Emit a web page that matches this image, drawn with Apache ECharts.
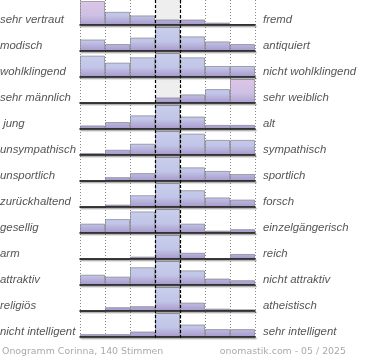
<!DOCTYPE html>
<html>
<head>
<meta charset="utf-8">
<script src="https://cdn.jsdelivr.net/npm/echarts@6/dist/echarts.min.js"></script>
<style>html,body{margin:0;padding:0;background:#fff}#c{width:370px;height:360px}</style>
</head>
<body>
<div id="c"></div>
<script>
// Bins (7-point scale)
var bins = ['1','2','3','4','5','6','7'];
var leftLabels = ['sehr vertraut','modisch','wohlklingend','sehr männlich',' jung','unsympathisch','unsportlich','zurückhaltend','gesellig','arm','attraktiv','religiös','nicht intelligent'];
var rightLabels = ['fremd','antiquiert','nicht wohlklingend','sehr weiblich','alt','sympathisch','sportlich','forsch','einzelgängerisch','reich','nicht attraktiv','atheistisch','sehr intelligent'];
// relative heights (% of row maximum)
var r01 = [100,55,40,23,23,10,4];
var r02 = [48,29,56,100,61,40,29];
var r03 = [89,60,82,100,82,46,46];
var r04 = [0,0,0,23,36,58,100];
var r05 = [15,29,57,100,52,17,17];
var r06 = [8,22,47,100,89,63,63];
var r07 = [0,16,33,100,57,42,29];
var r08 = [0,10,49,100,70,40,31];
var r09 = [39,58,90,100,39,10,16];
var r10 = [0,0,10,100,26,0,21];
var r11 = [43,35,74,100,61,27,20];
var r12 = [0,16,20,100,35,10,7];
var r13 = [12,12,23,100,52,33,33];
var rows = [r01,r02,r03,r04,r05,r06,r07,r08,r09,r10,r11,r12,r13];
// highlighted (pink) bars: [row, bin]
var pinkBars = [[0,0],[3,6]];
var footerLeft = 'Onogramm Corinna, 140 Stimmen';
var footerRight = 'onomastik.com - 05 / 2025';

var ROW = 26, LEFT = 80, WIDTH = 175;
var labelFont = 'italic 11.4px "Liberation Sans", Arial, sans-serif';
var footFont = '9.4px "DejaVu Sans", sans-serif';

function grad(i, pink) {
  var y0 = ROW * i + 1, y1 = ROW * i + 25;
  var stops = pink ?
    [{offset:0,color:'#dec6e6'},{offset:0.6,color:'#cdc0e4'},{offset:1,color:'#ac9fd0'}] :
    [{offset:0,color:'#c9cfed'},{offset:0.6,color:'#c1c5e7'},{offset:1,color:'#a898cb'}];
  return new echarts.graphic.LinearGradient(0, y0, 0, y1, stops, true);
}

var grids = [], xAxes = [], yAxes = [], series = [], graphics = [];
rows.forEach(function (vals, i) {
  grids.push({left: LEFT, width: WIDTH, top: ROW * i + 1, height: 24});
  xAxes.push({
    type: 'category', data: bins, gridIndex: i, z: 5,
    axisLine: {show: true, lineStyle: {color: '#111', width: 1.6, shadowColor: 'rgba(0,0,0,0.35)', shadowOffsetY: 1.5, shadowOffsetX: 1, shadowBlur: 1}},
    axisTick: {show: false}, axisLabel: {show: false}, splitLine: {show: false}
  });
  yAxes.push({type: 'value', gridIndex: i, min: 0, max: 100, show: false, splitLine: {show: false}});
  series.push({
    type: 'bar', xAxisIndex: i, yAxisIndex: i, barWidth: '100%', barGap: '0%', z: 3,
    animation: false,
    data: vals.map(function (v, j) {
      var pink = pinkBars.some(function (p) { return p[0] === i && p[1] === j; });
      return {value: v, itemStyle: {color: grad(i, pink)}};
    }),
    itemStyle: {borderColor: 'rgba(115,115,125,0.6)', borderWidth: 1}
  });
  graphics.push({type: 'text', x: 0, y: ROW * i + 20, style: {text: leftLabels[i], font: labelFont, fill: '#555', textVerticalAlign: 'middle', verticalAlign: 'middle'}});
  graphics.push({type: 'text', x: 263, y: ROW * i + 20, style: {text: rightLabels[i], font: labelFont, fill: '#555', textVerticalAlign: 'middle', verticalAlign: 'middle'}});
});

// overlay grid for vertical guides and the middle band
var ov = rows.length;
grids.push({left: LEFT, width: WIDTH, top: 0, height: 338});
xAxes.push({type: 'value', gridIndex: ov, min: 0, max: 7, interval: 1, axisLine: {show: false}, axisTick: {show: false}, axisLabel: {show: false},
  splitLine: {show: true, showMinLine: true, showMaxLine: true, lineStyle: {color: '#888', type: [1, 2], width: 1}}});
yAxes.push({type: 'value', gridIndex: ov, min: 0, max: 1, show: false, splitLine: {show: false}});
series.push({type: 'line', xAxisIndex: ov, yAxisIndex: ov, data: [], z: 1, silent: true, animation: false,
  markArea: {silent: true, itemStyle: {color: '#eeeeee'}, data: [[{xAxis: 3}, {xAxis: 4}]]}});
series.push({type: 'line', xAxisIndex: ov, yAxisIndex: ov, data: [], z: 10, silent: true, animation: false,
  markLine: {silent: true, symbol: 'none', label: {show: false}, lineStyle: {color: '#000', type: [3, 2], width: 1.2},
    data: [{xAxis: 3}, {xAxis: 4}]}});

graphics.push({type: 'text', x: 2, y: 352, style: {text: footerLeft, font: footFont, fill: '#aaa', textVerticalAlign: 'middle', verticalAlign: 'middle'}});
graphics.push({type: 'text', x: 346, y: 352, style: {text: footerRight, font: footFont, fill: '#aaa', textAlign: 'right', align: 'right', textVerticalAlign: 'middle', verticalAlign: 'middle'}});

var chart = echarts.init(document.getElementById('c'), null, {renderer: 'canvas'});
chart.setOption({
  animation: false,
  grid: grids, xAxis: xAxes, yAxis: yAxes, series: series, graphic: graphics
});
</script>
</body>
</html>
